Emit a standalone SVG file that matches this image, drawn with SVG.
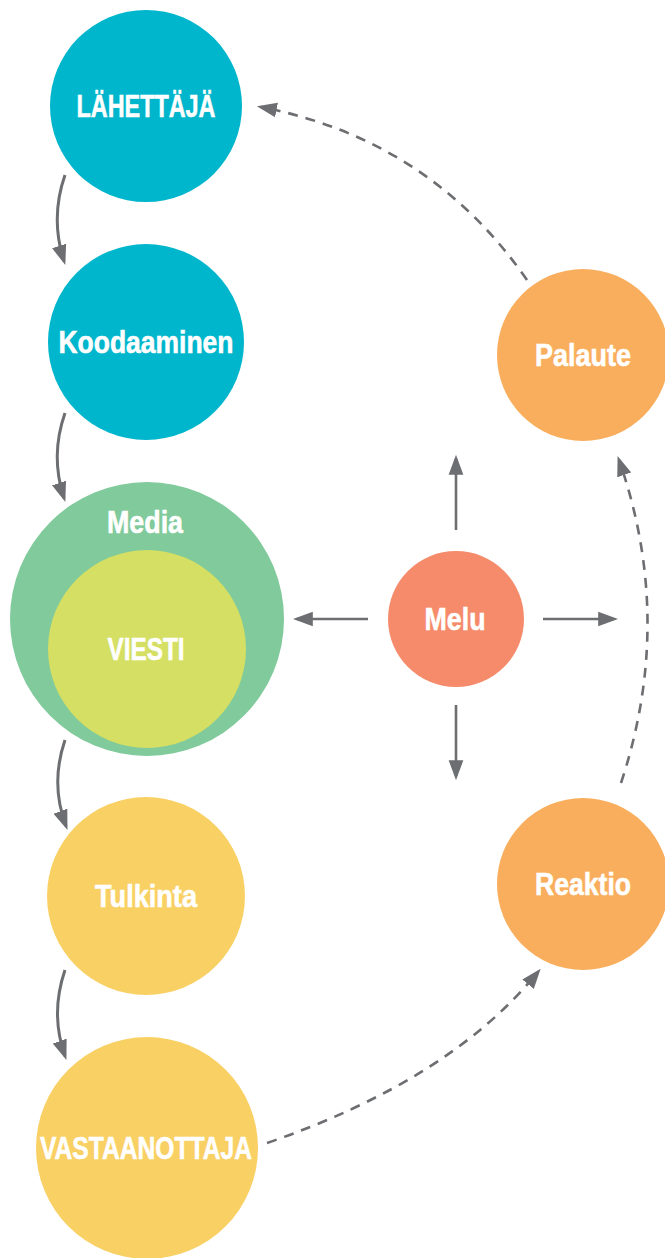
<svg xmlns="http://www.w3.org/2000/svg" width="665" height="1258" viewBox="0 0 665 1258">
  <defs>
    <style>
      .lbl { font-family: "Liberation Sans", "Open Sans", Arial, sans-serif; font-weight: 700; font-size: 31px; fill: #ffffff; stroke: #ffffff; stroke-width: 0.6; text-anchor: middle; }
      .solid { fill: none; stroke: #6d6e71; stroke-width: 3; }
      .straight { fill: none; stroke: #6d6e71; stroke-width: 2.6; }
      .dash { fill: none; stroke: #6d6e71; stroke-width: 2.6; stroke-dasharray: 10 8; }
      .teal { fill: #00b6cc; }
      .media { fill: #80ca9b; }
      .viesti { fill: #d4df64; }
      .yellow { fill: #f9d064; }
      .orange { fill: #f9ae5d; }
      .melu { fill: #f58b6a; }
    </style>
    <marker id="head" markerUnits="userSpaceOnUse" markerWidth="20" markerHeight="16" refX="15" refY="7" orient="auto" viewBox="0 0 19 14">
      <path d="M0,0 L19,7 L0,14 z" fill="#6d6e71"/>
    </marker>
  </defs>

  <!-- left column -->
  <g id="lahettaja">
    <circle class="teal" cx="146" cy="106" r="96"/>
    <text class="lbl" x="146" y="117" textLength="139" lengthAdjust="spacingAndGlyphs">LÄHETTÄJÄ</text>
  </g>
  <g id="koodaaminen">
    <circle class="teal" cx="146" cy="342" r="98"/>
    <text class="lbl" x="146" y="353" textLength="175" lengthAdjust="spacingAndGlyphs">Koodaaminen</text>
  </g>
  <g id="media">
    <circle class="media" cx="147" cy="619" r="137"/>
    <text class="lbl" x="145" y="533" textLength="76" lengthAdjust="spacingAndGlyphs">Media</text>
  </g>
  <g id="viesti">
    <circle class="viesti" cx="147" cy="649" r="99"/>
    <text class="lbl" x="146" y="660" textLength="77" lengthAdjust="spacingAndGlyphs">VIESTI</text>
  </g>
  <g id="tulkinta">
    <circle class="yellow" cx="146" cy="896" r="99"/>
    <text class="lbl" x="146" y="907" textLength="102" lengthAdjust="spacingAndGlyphs">Tulkinta</text>
  </g>
  <g id="vastaanottaja">
    <circle class="yellow" cx="147" cy="1148" r="111"/>
    <text class="lbl" x="146" y="1159" textLength="212" lengthAdjust="spacingAndGlyphs">VASTAANOTTAJA</text>
  </g>

  <!-- right column -->
  <g id="palaute">
    <circle class="orange" cx="583" cy="355" r="86"/>
    <text class="lbl" x="583" y="366" textLength="96" lengthAdjust="spacingAndGlyphs">Palaute</text>
  </g>
  <g id="reaktio">
    <circle class="orange" cx="583" cy="884" r="86"/>
    <text class="lbl" x="583" y="895" textLength="96" lengthAdjust="spacingAndGlyphs">Reaktio</text>
  </g>

  <!-- noise in the middle -->
  <g id="melu">
    <circle class="melu" cx="456" cy="619" r="68"/>
    <text class="lbl" x="455" y="630" textLength="61" lengthAdjust="spacingAndGlyphs">Melu</text>
  </g>

  <g id="connectors">
    <!-- flow down the left column -->
    <path class="solid" d="M65,175 Q50,218 64,261" marker-end="url(#head)"/>
    <path class="solid" d="M65,413 Q50,456 64,498" marker-end="url(#head)"/>
    <path class="solid" d="M65,740 Q50,784 66,826" marker-end="url(#head)"/>
    <path class="solid" d="M65,970 Q50,1014 65,1056" marker-end="url(#head)"/>

    <!-- noise spreading outwards -->
    <path class="straight" d="M456,530 L456,459" marker-end="url(#head)"/>
    <path class="straight" d="M456,705 L456,776" marker-end="url(#head)"/>
    <path class="straight" d="M368,619 L297,619" marker-end="url(#head)"/>
    <path class="straight" d="M543,619 L614,619" marker-end="url(#head)"/>

    <!-- feedback loop -->
    <path class="dash" d="M267,1143 Q450,1080 538,972" marker-end="url(#head)"/>
    <path class="dash" d="M621,783 Q675,620 619,460" marker-end="url(#head)"/>
    <path class="dash" d="M527,280 Q430,140 261,107" marker-end="url(#head)"/>
  </g>
</svg>
